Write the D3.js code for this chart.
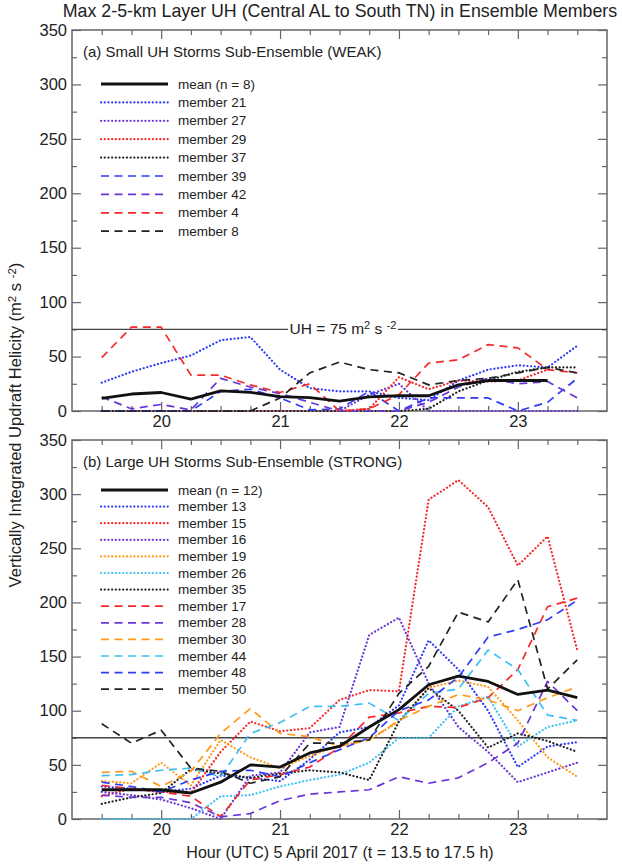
<!DOCTYPE html>
<html><head><meta charset="utf-8">
<script src="https://cdn.jsdelivr.net/npm/d3@7"></script>
<style>
body{margin:0;background:#fff;}
text{font-family:"Liberation Sans",Arial,sans-serif;fill:#222;}
</style></head><body>
<svg id="c" width="622" height="865"></svg>
<script>
// ---------- DATA ----------
const times = [19.5,19.75,20,20.25,20.5,20.75,21,21.25,21.5,21.75,22,22.25,22.5,22.75,23,23.25,23.5];
const hourTicks = [20,21,22,23];
const yTickValues = [0,50,100,150,200,250,300,350];

// (a) WEAK sub-ensemble
const weakNames  = ["mean (n = 8)","member 21","member 27","member 29","member 37","member 39","member 42","member 4","member 8"];
const weakColors = ["#111","#2f3cf5","#6a35d6","#f42a2a","#222","#2f3cf5","#6a35d6","#f42a2a","#222"];
const weakStyles = ["solid","dot","dot","dot","dot","dash","dash","dash","dash"];
const weakMean = [11.6,15.6,17,11,18.4,17.2,13.2,12.3,9,13,14,14,24,28,28,28];
const weak21 = [26,36,44,51,65,68,38,21,18,18,12,10,28,38,42,40,60];
const weak27 = [0,0,0,0,0,0,0,0,0,15,25,0,0,0,0,0,0];
const weak29 = [0,0,0,0,0,0,0,0,0,2,31,20,28,27,28,38];
const weak37 = [0,0,0,0,0,0,0,0,0,0,0,2,18,28,36,40,40];
const weak39 = [0,0,0,0,18,20,12,1,2,18,0,12,12,12,0,8,30];
const weak42 = [13,2,6,1,30,22,16,8,0,0,0,8,22,30,25,27,12];
const weak4  = [49,77,77,33,33,24,17,25,0,2,15,44,47,61,58,38,35];
const weak8  = [0,0,0,0,0,0,12,35,45,38,35,24,28,30,35,40,35];
const weakSeries = [weakMean,weak21,weak27,weak29,weak37,weak39,weak42,weak4,weak8];

// (b) STRONG sub-ensemble
const strongNames  = ["mean (n = 12)","member 13","member 15","member 16","member 19","member 26","member 35","member 17","member 28","member 30","member 44","member 48","member 50"];
const strongColors = ["#111","#2f3cf5","#f42a2a","#6a35d6","#ff9a1a","#3ec0f2","#222","#f42a2a","#6a35d6","#ff9a1a","#3ec0f2","#2f3cf5","#222"];
const strongStyles = ["solid","dot","dot","dot","dot","dot","dot","dash","dash","dash","dash","dash","dash"];
const strongMean = [27,27,27,24,34,50,48,61,67,85,101,124,132,127,115,119,112];
const strong13 = [30,28,25,28,40,38,35,55,80,85,105,165,138,100,48,67,71];
const strong15 = [21,28,25,24,62,90,81,84,110,119,118,295,313,288,234,261,156];
const strong16 = [25,22,18,10,0,40,43,80,85,170,186,125,85,62,34,43,52];
const strong19 = [35,33,52,31,73,57,47,58,68,73,90,121,128,122,91,57,39];
const strong26 = [0,0,0,0,21,22,30,36,41,52,75,75,104,113,67,85,91];
const strong35 = [14,20,24,46,42,38,42,45,43,36,90,121,100,66,79,72,62];
const strong17 = [31,28,25,21,2,36,41,48,66,94,98,104,103,112,138,196,204];
const strong28 = [22,20,20,15,2,5,17,23,25,27,39,33,38,52,70,127,100];
const strong30 = [43,44,30,44,79,102,79,76,67,73,91,104,115,110,100,112,122];
const strong44 = [40,41,45,47,39,79,89,104,104,107,91,116,120,156,138,96,91];
const strong48 = [34,30,25,36,44,45,39,52,64,75,100,110,131,168,175,184,202];
const strong50 = [88,70,82,47,44,33,39,70,70,73,116,141,191,182,221,120,147];
const strongSeries = [strongMean,strong13,strong15,strong16,strong19,strong26,strong35,strong17,strong28,strong30,strong44,strong48,strong50];

const threshold = 75;

// ---------- LAYOUT ----------
const svg = d3.select("#c");
const L = 72, R = 607;
const x = d3.scaleLinear().domain([19.25,23.75]).range([L,R]);
const fontTick = 16.5;

svg.append("text").attr("x",340).attr("y",16.5).attr("text-anchor","middle")
  .style("font-size","17.8px").text("Max 2-5-km Layer UH (Central AL to South TN) in Ensemble Members");

function styleFor(s){
  if(s==="dot") return {w:2.2,dash:"0.1 3.6",cap:"round"};
  if(s==="dash") return {w:1.7,dash:"8 5.5",cap:"butt"};
  return {w:2.8,dash:null,cap:"butt"};
}

function panel(top, bottom, label, names, colors, styles, series, legendY0, legendStep, isTop){
  const y = d3.scaleLinear().domain([0,350]).range([bottom,top]);
  const g = svg.append("g");
  const minorY = d3.range(25,350,50);
  const minorX = times.filter(t=>!hourTicks.includes(t));

  const ax = [];
  ax.push(g.append("g").attr("transform",`translate(${L},0)`).call(d3.axisLeft(y).tickValues(yTickValues).tickSize(-9).tickPadding(5)));
  ax.push(g.append("g").attr("transform",`translate(${L},0)`).call(d3.axisLeft(y).tickValues(minorY).tickSize(-5).tickFormat("")));
  ax.push(g.append("g").attr("transform",`translate(${R},0)`).call(d3.axisRight(y).tickValues(yTickValues).tickSize(-9).tickFormat("")));
  ax.push(g.append("g").attr("transform",`translate(${R},0)`).call(d3.axisRight(y).tickValues(minorY).tickSize(-5).tickFormat("")));
  ax.push(g.append("g").attr("transform",`translate(0,${bottom})`).call(d3.axisBottom(x).tickValues(hourTicks).tickSize(-9).tickPadding(4).tickFormat(d3.format("d"))));
  ax.push(g.append("g").attr("transform",`translate(0,${bottom})`).call(d3.axisBottom(x).tickValues(minorX).tickSize(-5).tickFormat("")));
  ax.push(g.append("g").attr("transform",`translate(0,${top})`).call(d3.axisTop(x).tickValues(hourTicks).tickSize(-9).tickFormat("")));
  ax.push(g.append("g").attr("transform",`translate(0,${top})`).call(d3.axisTop(x).tickValues(minorX).tickSize(-5).tickFormat("")));
  ax.forEach(a=>{
    a.select(".domain").remove();
    a.selectAll("line").attr("stroke","#666").attr("stroke-width",1.2);
    a.selectAll("text").style("font-size",fontTick+"px").attr("fill","#222")
      .style("font-family","'Liberation Sans',Arial,sans-serif");
  });
  g.append("rect").attr("x",L).attr("y",top).attr("width",R-L).attr("height",bottom-top)
    .attr("fill","none").attr("stroke","#666").attr("stroke-width",1.5);

  const yT = y(threshold);
  g.append("line").attr("x1",L).attr("x2",R).attr("y1",yT).attr("y2",yT).attr("stroke","#444").attr("stroke-width",1.4);
  if(isTop){
    const cx = 343;
    g.append("rect").attr("x",cx-55).attr("y",yT-10).attr("width",110).attr("height",20).attr("fill","#fff");
    const t = g.append("text").attr("x",cx).attr("y",yT+5).attr("text-anchor","middle").style("font-size","15.5px");
    t.append("tspan").text("UH = 75 m");
    t.append("tspan").attr("dy",-5).style("font-size","11px").text("2");
    t.append("tspan").attr("dy",5).text(" s ");
    t.append("tspan").attr("dy",-5).style("font-size","11px").text("-2");
  }

  g.append("text").attr("x",83).attr("y",top+27).style("font-size","15px").text(label);

  const line = d3.line().x((d,i)=>x(times[i])).y(d=>y(d));
  const order = d3.range(1,series.length).concat([0]);
  order.forEach(k=>{
    const st = styleFor(styles[k]);
    g.append("path").datum(series[k]).attr("d",line).attr("fill","none")
      .attr("stroke",colors[k]).attr("stroke-width",st.w)
      .attr("stroke-dasharray",st.dash).attr("stroke-linecap",st.cap).attr("stroke-linejoin","round");
  });

  names.forEach((n,k)=>{
    const st = styleFor(styles[k]);
    const ly = legendY0 + k*legendStep;
    g.append("line").attr("x1",101).attr("x2",168).attr("y1",ly).attr("y2",ly)
      .attr("stroke",colors[k]).attr("stroke-width",st.w).attr("stroke-dasharray",st.dash).attr("stroke-linecap",st.cap);
    g.append("text").attr("x",178).attr("y",ly+4.5).style("font-size","13.5px").text(n);
  });
}

panel(30, 411, "(a) Small UH Storms Sub-Ensemble (WEAK)", weakNames, weakColors, weakStyles, weakSeries, 84, 18.4, true);
panel(440, 819, "(b) Large UH Storms Sub-Ensemble (STRONG)", strongNames, strongColors, strongStyles, strongSeries, 490, 16.6, false);

const yt = svg.append("text").attr("transform","translate(21,425) rotate(-90)").attr("text-anchor","middle").style("font-size","16.5px");
yt.append("tspan").text("Vertically Integrated Updraft Helicity (m");
yt.append("tspan").attr("dy",-5).style("font-size","11.5px").text("2");
yt.append("tspan").attr("dy",5).text(" s ");
yt.append("tspan").attr("dy",-5).style("font-size","11.5px").text("-2");
yt.append("tspan").attr("dy",5).text(")");

svg.append("text").attr("x",340).attr("y",858).attr("text-anchor","middle").style("font-size","16px")
  .text("Hour (UTC) 5 April 2017 (t = 13.5 to 17.5 h)");
</script></body></html>
